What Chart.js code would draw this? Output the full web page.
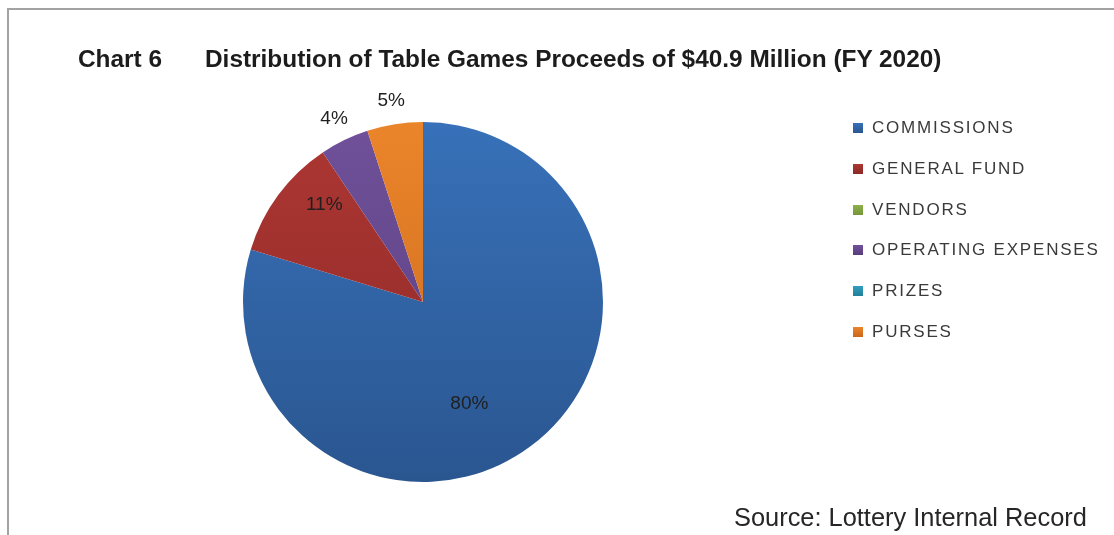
<!DOCTYPE html>
<html>
<head>
<meta charset="utf-8">
<script src="https://cdn.jsdelivr.net/npm/chart.js@4/dist/chart.umd.min.js"></script>
<style>
  html, body { margin: 0; padding: 0; background: #fff; }
  body { width: 1114px; height: 535px; overflow: hidden; position: relative; font-family: "Liberation Sans", Arial, sans-serif; }
  #frame { position: absolute; left: 7px; top: 8px; width: 1200px; height: 600px; border-left: 2px solid #a3a3a3; border-top: 2px solid #a3a3a3; }
  #c { position: absolute; left: 0; top: 0; }
  .title { position: absolute; top: 44px; line-height: 30px; font-weight: bold; color: #1c1c1c; font-size: 24.4px; white-space: nowrap; }
  .leg { position: absolute; left: 853px; height: 20px; line-height: 20px; font-size: 17px; color: #3a3a3a; white-space: nowrap; letter-spacing: 1.8px; display: flex; align-items: center; }
  .leg i { display: inline-block; width: 10px; height: 10px; margin-right: 9px; }
  #source { position: absolute; left: 734px; top: 502px; line-height: 30px; font-size: 25.4px; color: #262626; white-space: nowrap; }
</style>
</head>
<body>
<div id="frame"></div>
<canvas id="c" width="1114" height="535"></canvas>
<div class="title" style="left:78px">Chart 6</div>
<div class="title" style="left:205px">Distribution of Table Games Proceeds of $40.9 Million (FY 2020)</div>
<div id="legend"></div>
<div id="source">Source: Lottery Internal Record</div>
<script>
// ---- data ----
const categories = ["COMMISSIONS", "GENERAL FUND", "VENDORS", "OPERATING EXPENSES", "PRIZES", "PURSES"];
const shares = [79.7, 10.9, 0, 4.4, 0, 5.0];
const topColors = ["#3871b9", "#ad3733", "#8db04a", "#70519a", "#319fbf", "#eb852b"];
const bottomColors = ["#2a5690", "#8c2826", "#74963a", "#573d7c", "#247f9a", "#c9681c"];

// ---- styles for labels ----
const labelRadius = [0.62, 0.77, 0, 1.13, 0, 1.13];
const labelAngleShift = [12, 8, 0, 0, 0, 0];

// legend (HTML text)
const legend = document.getElementById('legend');
categories.forEach((name, i) => {
  const d = document.createElement('div');
  d.className = 'leg';
  d.style.top = (118 + i * 40.8) + 'px';
  d.innerHTML = '<i style="background:linear-gradient(' + topColors[i] + ',' + bottomColors[i] + ')"></i>' + name;
  legend.appendChild(d);
});

const pctLabels = {
  id: 'pctLabels',
  afterDatasetsDraw(chart) {
    const ctx = chart.ctx;
    const meta = chart.getDatasetMeta(0);
    const data = chart.data.datasets[0].data;
    const total = data.reduce((a, b) => a + b, 0);
    ctx.save();
    ctx.font = '19px "Liberation Sans", Arial, sans-serif';
    ctx.fillStyle = '#1f1f1f';
    ctx.textAlign = 'center';
    ctx.textBaseline = 'middle';
    meta.data.forEach((arc, i) => {
      if (!data[i]) return;
      const p = arc.getProps(['x', 'y', 'startAngle', 'endAngle', 'outerRadius'], true);
      const a = (p.startAngle + p.endAngle) / 2 + labelAngleShift[i] * Math.PI / 180;
      const r = p.outerRadius * labelRadius[i];
      ctx.fillText(Math.round(data[i] / total * 100) + '%', p.x + r * Math.cos(a), p.y + r * Math.sin(a));
    });
    ctx.restore();
  }
};

new Chart(document.getElementById('c'), {
  type: 'pie',
  data: {
    labels: categories,
    datasets: [{
      data: shares,
      borderWidth: 0,
      backgroundColor: (c) => {
        const ca = c.chart.chartArea;
        if (!ca) return topColors[c.dataIndex];
        const g = c.chart.ctx.createLinearGradient(0, ca.top, 0, ca.bottom);
        g.addColorStop(0, topColors[c.dataIndex]);
        g.addColorStop(1, bottomColors[c.dataIndex]);
        return g;
      }
    }]
  },
  options: {
    responsive: false,
    animation: false,
    layout: { padding: { left: 243, right: 511, top: 122, bottom: 53 } },
    plugins: { legend: { display: false }, tooltip: { enabled: false } }
  },
  plugins: [pctLabels]
});
</script>
</body>
</html>
